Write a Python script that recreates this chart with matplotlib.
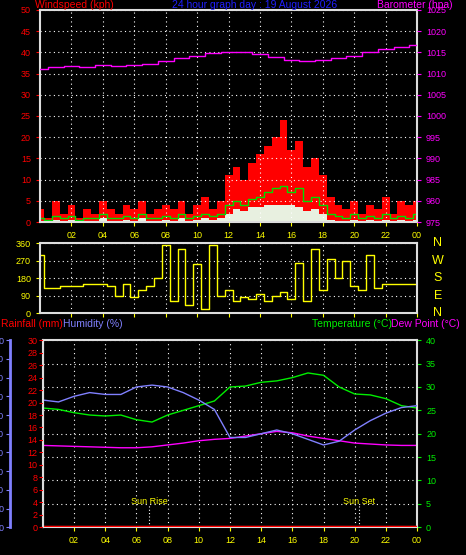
import matplotlib.pyplot as plt
import numpy as np

plt.rcParams['font.family'] = ['Liberation Sans', 'DejaVu Sans']
plt.rcParams['font.size'] = 6.5

hours = [0, 1, 2, 3, 4, 5, 6, 7, 8, 9, 10, 11, 12, 13, 14, 15, 16, 17, 18, 19, 20, 21, 22, 23, 24]
baro = [1011, 1011.5, 1011.7, 1011.6, 1012, 1011.8, 1012, 1012.3, 1013, 1013.7, 1014.2, 1014.8,
        1015.1, 1015.1, 1014.6, 1014, 1013.1, 1013, 1013.3, 1013.7, 1014.2, 1015.2, 1015.8, 1016.2, 1016.7]

half = [i / 2 for i in range(49)]
gust = [3, 1, 5, 2, 4, 1, 3, 2, 5, 3, 2, 4, 3, 5, 2, 3, 4, 3, 5, 2, 4, 6, 3, 5,
        11, 13, 10, 14, 16, 18, 20, 24, 17, 19, 13, 15, 11, 6, 4, 3, 5, 2, 4, 3, 6, 2, 5, 4, 5]
avg = [1, 0.5, 1.5, 1, 1.5, 0.5, 1, 1, 2, 1, 1, 1.5, 1, 2, 1, 1, 1.5, 1, 2, 1, 1.5, 2, 1.5, 2,
       4, 5, 4, 5.5, 6, 7, 8, 8.5, 7, 8, 5, 6, 4, 2, 1.5, 1, 2, 1, 1.5, 1, 2, 1, 1.5, 1, 2]
low = [0, 0, 0.5, 0, 0.5, 0, 0, 0, 1, 0, 0, 0.5, 0, 1, 0, 0, 0.5, 0, 1, 0, 0.5, 1, 0.5, 1,
       2, 3, 2.5, 3.5, 3.5, 4, 4, 4, 4, 3.5, 2.5, 3, 2, 0.5, 0, 0, 0.5, 0, 0.5, 0, 0.5, 0, 0.5, 0, 0.5]
direc = [300, 130, 130, 140, 140, 140, 150, 150, 150, 140, 90, 150, 80, 120, 140, 180,
         350, 60, 330, 40, 250, 20, 350, 90, 120, 60, 80, 70, 100, 60, 90, 110, 70, 260,
         60, 330, 120, 280, 180, 270, 140, 120, 300, 130, 150, 150, 150, 150, 150]

humid = [68, 67, 70, 72, 71, 71, 75, 76, 75, 72, 68, 63, 48, 48, 50, 52, 50, 47, 44, 46,
         52, 57, 61, 64, 65]
temp = [25.5, 25.2, 24.5, 24, 23.8, 24, 23, 22.5, 24, 25, 26, 27, 30, 30.2, 31, 31.3,
        32, 33, 32.5, 30, 28.5, 28.3, 27.5, 26, 25.5]
dew = [17.5, 17.4, 17.3, 17.2, 17.1, 17, 17, 17.2, 17.6, 18, 18.5, 18.8, 19, 19.5, 20,
       20.5, 20.2, 19.5, 19, 18.5, 18, 17.8, 17.6, 17.5, 17.5]
rain = [0] * 25
hour_labels = ['02', '04', '06', '08', '10', '12', '14', '16', '18', '20', '22', '00']

fig = plt.figure(figsize=(4.66, 5.55), dpi=100, facecolor='black')


def style(ax, xlabels=True):
    ax.set_facecolor('black')
    ax.set_xlim(0, 24)
    ax.set_xticks(range(2, 25, 2))
    ax.set_xticklabels(hour_labels if xlabels else [], color='yellow')
    ax.grid(True, color='white', linestyle=(0, (1, 3)), linewidth=0.8)
    for s in ax.spines.values():
        s.set_color('#dddddd')
        s.set_linewidth(1.5)
    ax.tick_params(axis='x', colors='yellow', length=3)


# top panel: wind + barometer
ax1 = fig.add_axes([0.086, 0.6, 0.809, 0.382])
style(ax1)
ax1.fill_between(half, gust, step='mid', color='red', lw=0)
ax1.fill_between(half, low, step='mid', color='#e8f0e0', lw=0)
ax1.step(half, avg, where='mid', color='#00dd00', lw=1)
ax1.set_ylim(0, 50)
ax1.set_yticks(range(0, 51, 5))
ax1.tick_params(axis='y', colors='red', length=3)
ax1b = ax1.twinx()
ax1b.plot(hours, baro, color='magenta', lw=1, drawstyle='steps-mid')
ax1b.set_ylim(975, 1025)
ax1b.set_yticks(range(975, 1026, 5))
ax1b.tick_params(axis='y', colors='magenta', length=3)
for s in ax1b.spines.values():
    s.set_visible(False)
fig.text(0.22, 1.0, 'Windspeed (kph)', color='red', fontsize=7.5, va='top')
fig.text(0.37, 1.0, '24 hour graph day : 19 August 2026', color='#2020ff', fontsize=7.5, va='top')
fig.text(0.81, 1.0, 'Barometer (hpa)', color='magenta', fontsize=7.5, va='top')
fig.texts[0].set_x(0.075)
fig.texts[0].set_ha('left')

# middle panel: direction
ax2 = fig.add_axes([0.086, 0.436, 0.809, 0.126])
style(ax2, xlabels=False)
ax2.step(half, direc, where='mid', color='yellow', lw=1)
ax2.set_ylim(0, 360)
ax2.set_yticks([0, 90, 180, 270, 360])
ax2.tick_params(axis='y', colors='yellow', length=3)
for lab, v in zip(['N', 'W', 'S', 'E', 'N'], [360, 270, 180, 90, 0]):
    ax2.text(1.055, v / 360, lab, transform=ax2.transAxes, color='yellow',
             fontsize=9, ha='center', va='center')

# bottom panel
ax3 = fig.add_axes([0.092, 0.05, 0.803, 0.337])
style(ax3)
ax3.set_ylim(0, 40)
ax3.set_yticks(range(0, 41, 5))
ax3.plot(hours, temp, color='#00ee00', lw=1)
ax3.plot(hours, dew, color='magenta', lw=1)
axh = ax3.twinx()
axr = ax3.twinx()
ax3.yaxis.tick_right()
ax3.tick_params(axis='y', colors='#00ee00', length=3)
axh.yaxis.tick_left()
axh.spines['left'].set_position(('outward', 24))
axh.spines['left'].set_color('#8080ff')
axh.spines['left'].set_linewidth(2)
axh.set_ylim(0, 100)
axh.set_yticks(range(0, 101, 10))
axh.tick_params(axis='y', colors='#8080ff', length=3, pad=1)
axh.plot(hours, humid, color='#8080ff', lw=1)
axr.yaxis.tick_left()
axr.set_ylim(0, 30)
axr.set_yticks(range(0, 31, 2))
axr.tick_params(axis='y', colors='red', length=3, pad=1)
axr.plot(hours, rain, color='red', lw=2.5)
for a in (axh, axr):
    for k in ('top', 'right', 'bottom'):
        a.spines[k].set_visible(False)
axr.spines['left'].set_color('#dddddd')
for x, t in [(6.8, 'Sun Rise'), (20.3, 'Sun Set')]:
    ax3.axvline(x, ymax=0.12, color='white', ls=(0, (1, 2)), lw=0.8)
    ax3.text(x, 4.9, t, color='yellow', ha='center', fontsize=6.5)
fig.text(0.003, 0.41, 'Rainfall (mm)', color='red', fontsize=7.5)
fig.text(0.135, 0.41, 'Humidity (%)', color='#8080ff', fontsize=7.5)
fig.text(0.67, 0.41, 'Temperature (°C)', color='#00ee00', fontsize=7.5)
fig.text(0.84, 0.41, 'Dew Point (°C)', color='magenta', fontsize=7.5)

fig.savefig('out.png', dpi=100, facecolor='black')
